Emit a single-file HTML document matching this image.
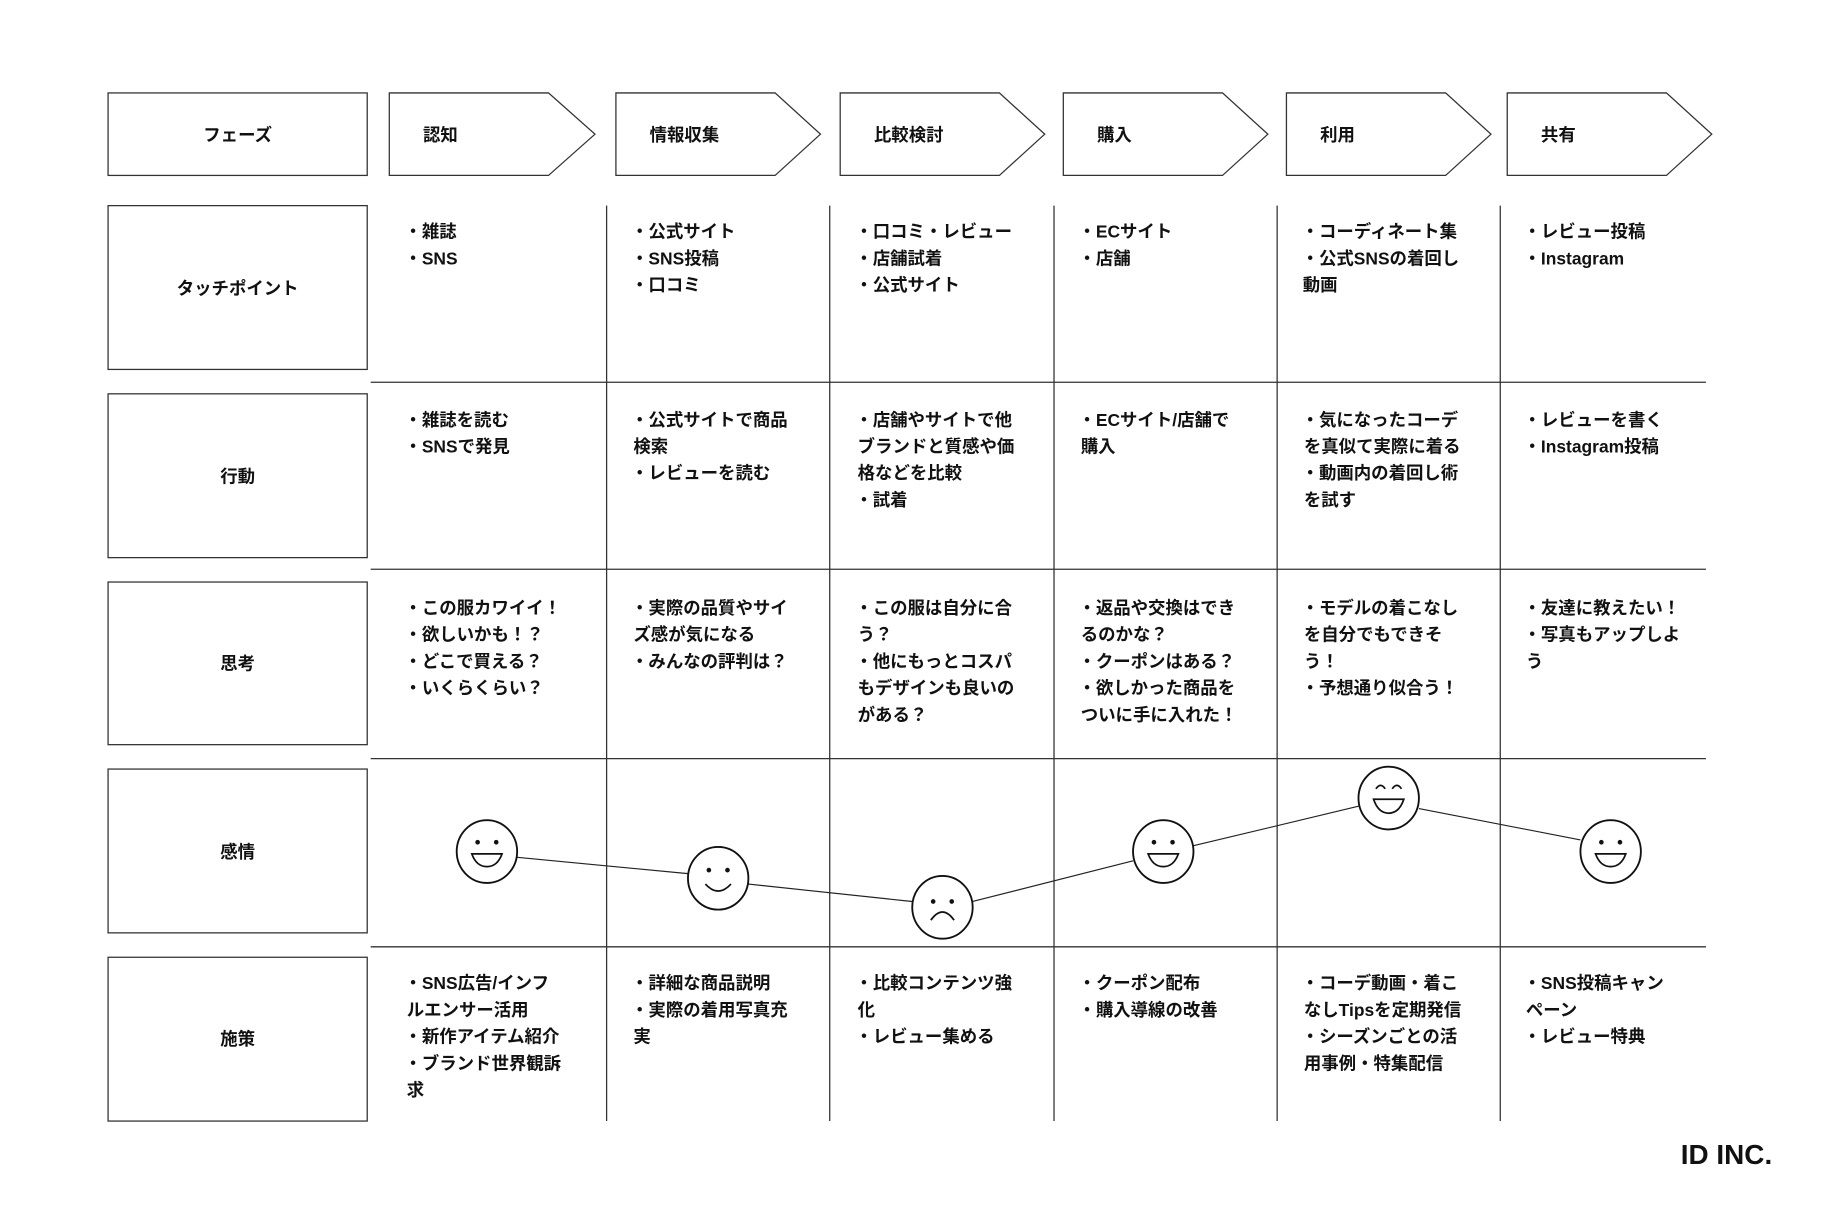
<!DOCTYPE html>
<html><head><meta charset="utf-8"><style>
html,body{margin:0;padding:0;background:#fff;}
svg{display:block;}
text{font-family:"Liberation Sans","Noto Sans CJK JP",sans-serif;font-weight:bold;font-size:15px;fill:#111;}
</style></head><body>
<svg width="1821" height="1214" viewBox="0 0 1567 1045" preserveAspectRatio="none" xmlns="http://www.w3.org/2000/svg">
<g fill="none" stroke="#333" stroke-width="1.1">
<rect x="93" y="80" width="223" height="71"/>
<rect x="93" y="177" width="223" height="141"/>
<rect x="93" y="339" width="223" height="141"/>
<rect x="93" y="501" width="223" height="140"/>
<rect x="93" y="662" width="223" height="141"/>
<rect x="93" y="824" width="223" height="141"/>
<polygon points="335,80 472,80 512,115.5 472,151 335,151"/>
<polygon points="530,80 667,80 706,115.5 667,151 530,151"/>
<polygon points="723,80 860,80 899,115.5 860,151 723,151"/>
<polygon points="915,80 1052,80 1091,115.5 1052,151 915,151"/>
<polygon points="1107,80 1244,80 1283,115.5 1244,151 1107,151"/>
<polygon points="1297,80 1434,80 1473,115.5 1434,151 1297,151"/>
<line x1="522" y1="177" x2="522" y2="965"/>
<line x1="714" y1="177" x2="714" y2="965"/>
<line x1="907" y1="177" x2="907" y2="965"/>
<line x1="1099" y1="177" x2="1099" y2="965"/>
<line x1="1291" y1="177" x2="1291" y2="965"/>
<line x1="319" y1="329" x2="1468" y2="329"/>
<line x1="319" y1="490" x2="1468" y2="490"/>
<line x1="319" y1="653" x2="1468" y2="653"/>
<line x1="319" y1="815" x2="1468" y2="815"/>
</g>
<g transform="translate(0,1.5)">
<g text-anchor="middle">
<text x="204.5" y="120">フェーズ</text>
<text x="204.5" y="252">タッチポイント</text>
<text x="204.5" y="414">行動</text>
<text x="204.5" y="575">思考</text>
<text x="204.5" y="737">感情</text>
<text x="204.5" y="898">施策</text>
</g>
<text x="364" y="120">認知</text>
<text x="559" y="120">情報収集</text>
<text x="752" y="120">比較検討</text>
<text x="944" y="120">購入</text>
<text x="1136" y="120">利用</text>
<text x="1326" y="120">共有</text>
<text x="348" y="203">・雑誌</text><text x="348" y="226">・SNS</text>
<text x="543" y="203">・公式サイト</text><text x="543" y="226">・SNS投稿</text><text x="543" y="249">・口コミ</text>
<text x="736" y="203">・口コミ・レビュー</text><text x="736" y="226">・店舗試着</text><text x="736" y="249">・公式サイト</text>
<text x="928" y="203">・ECサイト</text><text x="928" y="226">・店舗</text>
<text x="1120" y="203">・コーディネート集</text><text x="1120" y="226">・公式SNSの着回し</text><text x="1121" y="249">動画</text>
<text x="1311" y="203">・レビュー投稿</text><text x="1311" y="226">・Instagram</text>
<text x="348" y="365">・雑誌を読む</text><text x="348" y="388">・SNSで発見</text>
<text x="543" y="365">・公式サイトで商品</text><text x="545" y="388">検索</text><text x="543" y="411">・レビューを読む</text>
<text x="736" y="365">・店舗やサイトで他</text><text x="738" y="388">ブランドと質感や価</text><text x="738" y="411">格などを比較</text><text x="736" y="434">・試着</text>
<text x="928" y="365">・ECサイト/店舗で</text><text x="930" y="388">購入</text>
<text x="1120" y="365">・気になったコーデ</text><text x="1122" y="388">を真似て実際に着る</text><text x="1120" y="411">・動画内の着回し術</text><text x="1122" y="434">を試す</text>
<text x="1311" y="365">・レビューを書く</text><text x="1311" y="388">・Instagram投稿</text>
<text x="348" y="527">・この服カワイイ！</text><text x="348" y="550">・欲しいかも！？</text><text x="348" y="573">・どこで買える？</text><text x="348" y="596">・いくらくらい？</text>
<text x="543" y="527">・実際の品質やサイ</text><text x="545" y="550">ズ感が気になる</text><text x="543" y="573">・みんなの評判は？</text>
<text x="736" y="527">・この服は自分に合</text><text x="738" y="550">う？</text><text x="736" y="573">・他にもっとコスパ</text><text x="738" y="596">もデザインも良いの</text><text x="738" y="619">がある？</text>
<text x="928" y="527">・返品や交換はでき</text><text x="930" y="550">るのかな？</text><text x="928" y="573">・クーポンはある？</text><text x="928" y="596">・欲しかった商品を</text><text x="930" y="619">ついに手に入れた！</text>
<text x="1120" y="527">・モデルの着こなし</text><text x="1122" y="550">を自分でもできそ</text><text x="1122" y="573">う！</text><text x="1120" y="596">・予想通り似合う！</text>
<text x="1311" y="527">・友達に教えたい！</text><text x="1311" y="550">・写真もアップしよ</text><text x="1313" y="573">う</text>
<text x="348" y="850">・SNS広告/インフ</text><text x="350" y="873">ルエンサー活用</text><text x="348" y="896">・新作アイテム紹介</text><text x="348" y="919">・ブランド世界観訴</text><text x="350" y="942">求</text>
<text x="543" y="850">・詳細な商品説明</text><text x="543" y="873">・実際の着用写真充</text><text x="545" y="896">実</text>
<text x="736" y="850">・比較コンテンツ強</text><text x="738" y="873">化</text><text x="736" y="896">・レビュー集める</text>
<text x="928" y="850">・クーポン配布</text><text x="928" y="873">・購入導線の改善</text>
<text x="1120" y="850">・コーデ動画・着こ</text><text x="1122" y="873">なしTipsを定期発信</text><text x="1120" y="896">・シーズンごとの活</text><text x="1122" y="919">用事例・特集配信</text>
<text x="1311" y="850">・SNS投稿キャン</text><text x="1313" y="873">ペーン</text><text x="1311" y="896">・レビュー特典</text>
</g>
<g stroke="#222" stroke-width="1" fill="none">
<line x1="445" y1="738" x2="592" y2="752"/>
<line x1="644" y1="761" x2="785" y2="776"/>
<line x1="837" y1="776" x2="975" y2="741"/>
<line x1="1027" y1="728" x2="1169" y2="694"/>
<line x1="1221" y1="696" x2="1360" y2="723"/>
</g>
<g stroke="#111" stroke-width="1.6" fill="#fff">
<ellipse cx="419" cy="733" rx="26" ry="27"/>
<ellipse cx="618" cy="756" rx="26" ry="27"/>
<ellipse cx="811" cy="781" rx="26" ry="27"/>
<ellipse cx="1001" cy="733" rx="26" ry="27"/>
<ellipse cx="1195" cy="687" rx="26" ry="27"/>
<ellipse cx="1386" cy="733" rx="26" ry="27"/>
</g>
<g fill="#111">
<circle cx="411" cy="725" r="2"/><circle cx="427" cy="725" r="2"/>
<circle cx="610" cy="749" r="2"/><circle cx="626" cy="749" r="2"/>
<circle cx="803" cy="776" r="2"/><circle cx="819" cy="776" r="2"/>
<circle cx="993" cy="725" r="2"/><circle cx="1009" cy="725" r="2"/>
<circle cx="1378" cy="725" r="2"/><circle cx="1394" cy="725" r="2"/>
</g>
<g stroke="#111" stroke-width="1.5" fill="none">
<path d="M406 735 L432 735 Q428 746 419 746 Q410 746 406 735 Z"/>
<path d="M607 761 Q618 773 629 761"/>
<path d="M801 792 Q811 778 821 792"/>
<path d="M988 735 L1014 735 Q1010 746 1001 746 Q992 746 988 735 Z"/>
<path d="M1182 688 L1208 688 Q1204 700 1195 700 Q1186 700 1182 688 Z"/>
<path d="M1184 679 Q1188 673 1192 679"/><path d="M1198 679 Q1202 673 1206 679"/>
<path d="M1373 735 L1399 735 Q1395 746 1386 746 Q1377 746 1373 735 Z"/>
</g>
<text x="1525" y="1002" text-anchor="end" style="font-size:24px">ID INC.</text>
</svg>
</body></html>
